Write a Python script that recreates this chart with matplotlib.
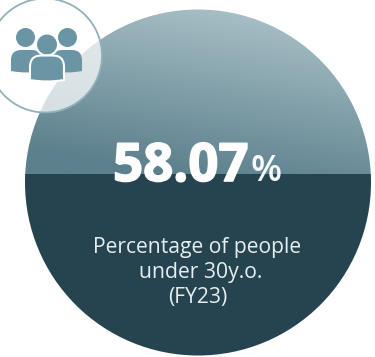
import numpy as np
import matplotlib
matplotlib.use("Agg")
import matplotlib.pyplot as plt
import matplotlib.patheffects as pe
from matplotlib.patches import Circle, PathPatch
from matplotlib.path import Path

share_value = 58.07
share_unit = "%"
caption_lines = ["Percentage of people", "under 30y.o.", "(FY23)"]

W, H = 375, 357
DARK = "#25444f"
ICON = "#6a95a4"
RING = "#8fb1ba"

fig = plt.figure(figsize=(W / 100, H / 100), dpi=100, facecolor="white")

# Overlay axes in pixel units for the disc, badge and text
ax = fig.add_axes([0, 0, 1, 1], zorder=1)
ax.set_xlim(0, W)
ax.set_ylim(H, 0)
ax.axis("off")
ax.patch.set_alpha(0)

cx, cy, r = 198, 182.5, 173
disc_top, disc_bottom = cy - r, cy + r

# Disc clip and diagonal gradient for the unfilled part
disc = Circle((cx, cy), r, transform=ax.transData, facecolor="none", edgecolor="none")
ax.add_patch(disc)
yy, xx = np.mgrid[0:1:200j, 0:1:200j]
t = np.clip(0.86 * yy + 0.30 * (1 - xx) - 0.02, 0, 1)
light = np.array([0xb0, 0xc6, 0xcc]) / 255
deep = np.array([0x5c, 0x80, 0x8d]) / 255
grad = light[None, None, :] * (1 - t[..., None]) + deep[None, None, :] * t[..., None]
img = ax.imshow(grad, extent=(cx - r, cx + r, 176, disc_top), aspect="auto", zorder=1)
img.set_clip_path(disc)
ax.set_xlim(0, W)
ax.set_ylim(H, 0)

# Gauge axes: the level is a bar on a 0-100 scale whose top meets the disc top
px_per_unit = (174 - disc_top) / (100 - share_value)
scale_min = 100 - (disc_bottom - disc_top) / px_per_unit
gauge = fig.add_axes([(cx - r) / W, 1 - disc_bottom / H, 2 * r / W, 2 * r / H], zorder=2)
gauge.set_xlim(0, 1)
gauge.set_ylim(scale_min, 100)
gauge.axis("off")
gauge.patch.set_alpha(0)
bars = gauge.bar([0.5], [share_value - scale_min], bottom=scale_min, width=1, color=DARK, linewidth=0)
for b in bars:
    b.set_clip_path(disc)

# Text and badge sit above the gauge
top = fig.add_axes([0, 0, 1, 1], zorder=3)
top.set_xlim(0, W)
top.set_ylim(H, 0)
top.axis("off")
top.patch.set_alpha(0)

top.add_patch(Circle((45, 55.5), 57, facecolor=(1, 1, 1, 0.72), edgecolor="none", zorder=2))
top.add_patch(Circle((45, 55.5), 57, facecolor="none", edgecolor=RING, linewidth=1.3, zorder=3))


def body(x0, x1, y0, y1, rad, sag, **kw):
    verts = [
        (x0, y1 - sag), (x0, y0 + rad),
        (x0, y0 + rad * 0.3), (x0 + rad * 0.3, y0), (x0 + rad, y0),
        (x1 - rad, y0),
        (x1 - rad * 0.3, y0), (x1, y0 + rad * 0.3), (x1, y0 + rad),
        (x1, y1 - sag),
        ((x0 + x1) / 2, y1 + sag), (x0, y1 - sag), (x0, y1 - sag),
    ]
    codes = [Path.MOVETO, Path.LINETO, Path.CURVE4, Path.CURVE4, Path.CURVE4, Path.LINETO,
             Path.CURVE4, Path.CURVE4, Path.CURVE4, Path.LINETO,
             Path.CURVE3, Path.CURVE3, Path.CLOSEPOLY]
    return PathPatch(Path(verts, codes), **kw)


# People icon: two figures behind, one in front with a white outline
top.add_patch(Circle((25.5, 37.5), 9.5, facecolor=ICON, edgecolor="none", zorder=4))
top.add_patch(Circle((67.5, 37.5), 9.5, facecolor=ICON, edgecolor="none", zorder=4))
top.add_patch(body(11, 42, 50, 72.5, 11, 1.5, facecolor=ICON, edgecolor="none", zorder=4))
top.add_patch(body(52, 82, 50, 72.5, 11, 1.5, facecolor=ICON, edgecolor="none", zorder=4))
top.add_patch(Circle((47, 44.5), 11, facecolor=ICON, edgecolor="white", linewidth=1.5, zorder=5))
top.add_patch(body(30, 64, 55.5, 81.5, 12, 1.5, facecolor=ICON, edgecolor="white", linewidth=1.5, zorder=5))

sans = ["Open Sans", "DejaVu Sans"]
top.text(113, 181, f"{share_value:.2f}", family=sans, fontsize=38, fontweight="bold",
         color="white", ha="left", va="baseline", zorder=6,
         path_effects=[pe.withStroke(linewidth=1.2, foreground="white")])
top.text(251, 181, share_unit, family=sans, fontsize=26, fontweight="semibold",
         color="white", alpha=0.95, ha="left", va="baseline", zorder=6)
for line, x, y in zip(caption_lines, [197.5, 201, 198], [253, 278, 303]):
    top.text(x, y, line, family=sans, fontsize=15.2, color="#e6eef0",
             ha="center", va="baseline", zorder=6)

fig.savefig("out.png", dpi=100, facecolor="white")
